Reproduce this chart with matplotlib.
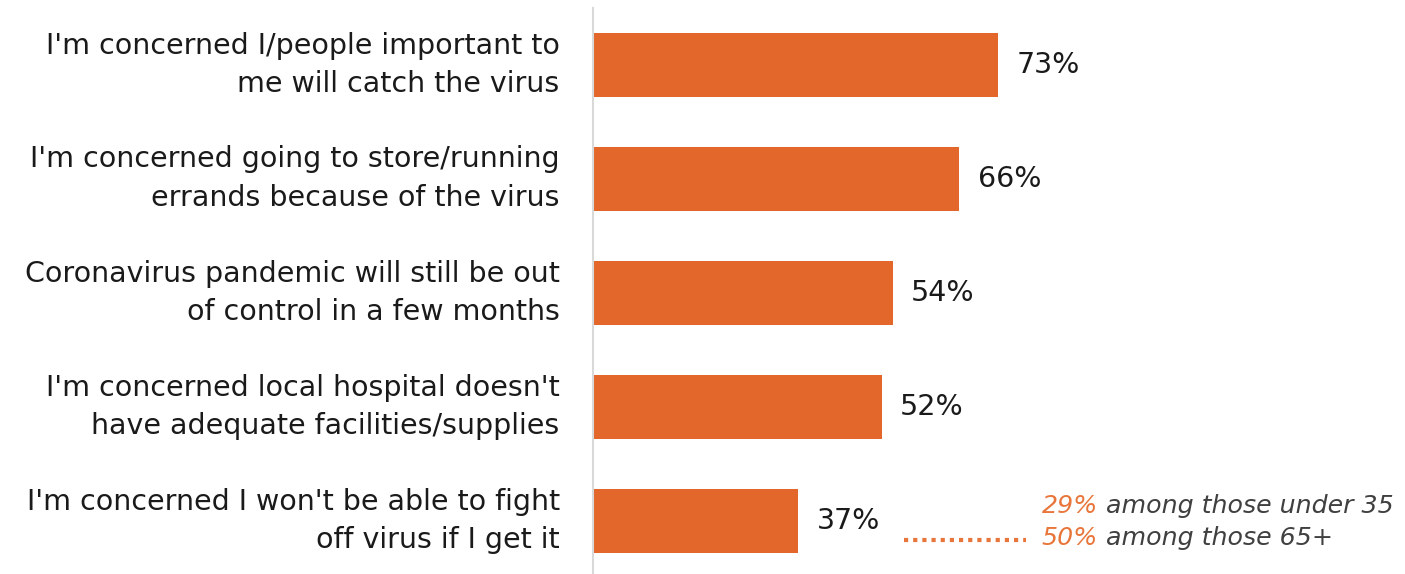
import matplotlib.pyplot as plt
from matplotlib.transforms import offset_copy

plt.rcParams['font.family'] = ['DejaVu Sans']

labels = [
    "I'm concerned I/people important to\nme will catch the virus",
    "I'm concerned going to store/running\nerrands because of the virus",
    "Coronavirus pandemic will still be out\nof control in a few months",
    "I'm concerned local hospital doesn't\nhave adequate facilities/supplies",
    "I'm concerned I won't be able to fight\noff virus if I get it",
]
values = [73, 66, 54, 52, 37]
age_values = ["29%", "50%"]
age_groups = [" among those under 35", " among those 65+"]

orange = '#E3672A'
grey = '#404040'

fig = plt.figure(figsize=(14.05, 5.74), dpi=100)
ax = fig.add_axes([593 / 1405, 0, 812 / 1405, 566 / 574])

pos = list(range(len(values)))
ax.barh(pos, values, height=0.56, color=orange)
ax.set_xlim(0, 812 / 5.55)
ax.set_ylim(-0.5 + 566 / 114, -0.5)

for p, v in zip(pos, values):
    ax.text(v + 3.3, p, f"{v}%", va='center', ha='left', fontsize=20.5,
            color='#1a1a1a')

for p, lab in zip(pos, labels):
    ax.text(-6, p, lab, va='center', ha='right', fontsize=20.5, color='#1a1a1a',
            linespacing=1.5)

for s in ['top', 'right', 'bottom']:
    ax.spines[s].set_visible(False)
ax.spines['left'].set_color('#D9D9D9')
ax.spines['left'].set_linewidth(1.5)
ax.set_xticks([])
ax.set_yticks([])

# dotted leader for the age breakdown
ax.plot([56, 78], [4.17, 4.17], color='#E8763A', lw=3, ls=(0, (1, 1.2)),
        solid_capstyle='butt')

fig.canvas.draw()
rend = fig.canvas.get_renderer()
for y, pct, grp in zip([3.87, 4.15], age_values, age_groups):
    t = ax.text(80.8, y, pct, va='center', ha='left', fontsize=18.2,
                style='italic', color='#E8763A')
    w = t.get_window_extent(renderer=rend).width
    tr = offset_copy(ax.transData, fig=fig, x=w, y=0, units='dots')
    ax.text(80.8, y, grp, va='center', ha='left', fontsize=18.2,
            style='italic', color=grey, transform=tr)

fig.savefig('out.png', dpi=100)
